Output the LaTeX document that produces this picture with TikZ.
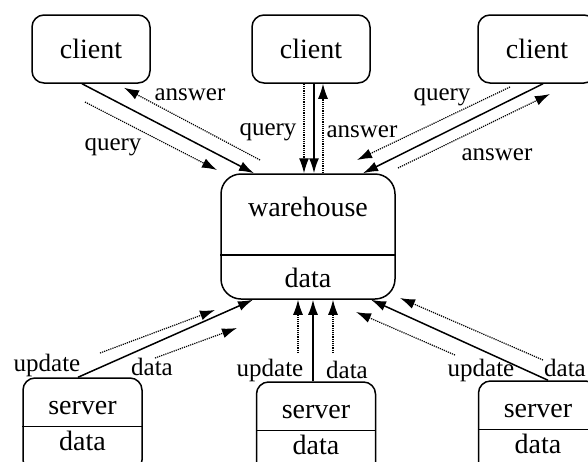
\documentclass[tikz,border=0pt]{standalone}
\usepackage{fontspec}
\setmainfont{Liberation Serif}
\usetikzlibrary{arrows.meta}
\tikzset{
  box/.style={draw, line width=1.5pt, rounded corners=12pt, inner sep=0pt},
  flow/.style={line width=1.5pt, -{Latex[length=15pt,width=10pt]}},
  msg/.style={line width=1.2pt, dash pattern=on 1.2pt off 1pt, -{Latex[length=15pt,width=10pt]}},
  lbl/.style={font=\fontsize{25}{27}\selectfont, inner sep=0pt},
  txt/.style={font=\fontsize{28}{30}\selectfont, inner sep=0pt}
}
\begin{document}
\begin{tikzpicture}[x=1pt, y=-1pt, line join=round]
  \clip (0,0) rectangle (588,461);
  % clients
  \foreach \n/\x in {1/91,2/311,3/537}
  \node[box, txt, minimum width=118pt, minimum height=68pt] (cl\n) at (\x,49) {client};
  % warehouse
  \node[box, rounded corners=20pt, minimum width=174pt, minimum height=125pt] (wh) at (308,236.5) {};
  \draw[line width=1.5pt] ([yshift=45pt]wh.south west) -- ([yshift=45pt]wh.south east);
  \node[txt] (whname) at ([yshift=-34pt]wh.north) {warehouse};
  \node[txt] (whdata) at ([yshift=22pt]wh.south) {data};
  % servers
  \foreach \n/\x/\y in {1/82.5/425,2/316/429,3/538/428}{
    \node[box, minimum width=119pt, minimum height=94pt] (sv\n) at (\x,\y) {};
    \draw[line width=1.5pt] ([yshift=-49pt]sv\n.north west) -- ([yshift=-49pt]sv\n.north east);
    \node[txt] (svname\n) at ([yshift=-31pt]sv\n.north) {server};
    \node[txt] (svdata\n) at ([yshift=-64pt]sv\n.north) {data};
  }
  % free ends of the dotted arrows
  \path
  (85,102) coordinate (q1a) (217,170) coordinate (q1b)
  (260,160) coordinate (a1a)
  (510,87) coordinate (q3a) (357,160) coordinate (q3b)
  (398,168) coordinate (a3a) (550,94) coordinate (a3b)
  (100,353) coordinate (u1a) (215,310) coordinate (u1b)
  (155,358) coordinate (d1a) (237,328) coordinate (d1b)
  (298,353) coordinate (u2a) (333,353) coordinate (d2a)
  (455,355) coordinate (u3a) (356,312) coordinate (u3b)
  (543,360) coordinate (d3a) (400,298) coordinate (d3b);
  % client side
  \draw[flow] ([xshift=-9pt]cl1.south) -- ([xshift=-54pt]wh.north);
  \draw[msg] (q1a) -- (q1b);
  \draw[msg] (a1a) -- ([xshift=33pt,yshift=-4pt]cl1.south);
  \draw[msg] ([xshift=-7pt]cl2.south) -- ([xshift=-4pt]wh.north);
  \draw[flow] ([xshift=3pt]cl2.south) -- ([xshift=6pt]wh.north);
  \draw[msg] ([xshift=15pt]wh.north) -- ([xshift=12pt]cl2.south);
  \draw[flow] ([xshift=6pt]cl3.south) -- ([xshift=55pt]wh.north);
  \draw[msg] (q3a) -- (q3b);
  \draw[msg] (a3a) -- (a3b);
  % server side
  \draw[flow] ([xshift=-4.5pt]sv1.north) -- ([xshift=-55pt]wh.south);
  \draw[msg] (u1a) -- (u1b);
  \draw[msg] (d1a) -- (d1b);
  \draw[flow] ([xshift=-3pt]sv2.north) -- ([xshift=5pt]wh.south);
  \draw[msg] (u2a) -- (u2a |- wh.south);
  \draw[msg] (d2a) -- (d2a |- wh.south);
  \draw[flow] ([xshift=10pt]sv3.north) -- ([xshift=63pt]wh.south);
  \draw[msg] (u3a) -- (u3b);
  \draw[msg] (d3a) -- (d3b);
  % labels
  \foreach \t/\p in {answer/{190,95},query/{113,147},query/{268,132},answer/{362,132},
    query/{442,97},answer/{497,155},update/{47,365},data/{152,367},update/{270,370},
    data/{347,370},update/{481,370},data/{565,368}}
  \node[lbl] at (\p) {\t};
\end{tikzpicture}
\end{document}
